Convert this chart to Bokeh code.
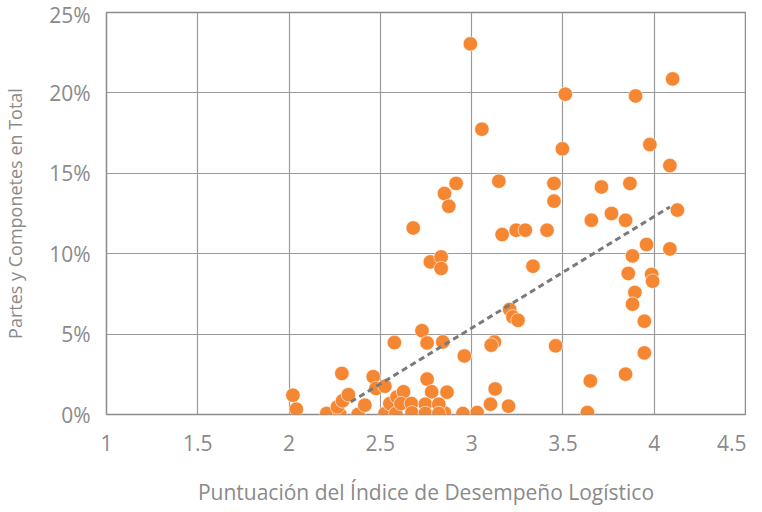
from bokeh.plotting import figure
from bokeh.models import Range1d, FixedTicker, ColumnDataSource
from bokeh.embed import file_html
from bokeh.resources import INLINE

# Logistics Performance Index score vs share of parts & components in total (%)
lpi_score = [
    2.993, 3.056, 2.915, 2.851, 2.875, 2.680, 3.149, 3.167, 3.244, 3.294,
    3.413, 2.774, 2.833, 2.833, 4.101, 3.513, 3.898, 3.497, 3.976, 4.086,
    3.451, 3.867, 3.711, 3.451, 3.766, 3.656, 3.843, 4.127, 3.958, 4.086,
    3.881, 3.336, 3.858, 3.986, 3.991, 3.894, 3.881, 3.946, 3.946, 3.843,
    3.650, 3.634, 3.460, 3.208, 3.226, 3.254, 3.125, 3.107, 2.960, 3.129,
    3.103, 3.202, 3.030, 2.952, 2.865, 2.851, 2.842,
    2.021, 2.040, 2.206, 2.278, 2.265, 2.293, 2.325, 2.289, 2.378, 2.415,
    2.461, 2.476, 2.525, 2.525, 2.552, 2.577, 2.585, 2.591, 2.627, 2.613,
    2.670, 2.673, 2.728, 2.756, 2.756, 2.781, 2.746, 2.746, 2.820, 2.820,
]
parts_share = [
    23.05, 17.74, 14.37, 13.74, 12.95, 11.60, 14.51, 11.19, 11.46, 11.46,
    11.46, 9.49, 9.80, 9.08, 20.87, 19.92, 19.81, 16.52, 16.79, 15.48,
    14.37, 14.37, 14.15, 13.27, 12.50, 12.08, 12.08, 12.71, 10.57, 10.30,
    9.86, 9.22, 8.77, 8.71, 8.29, 7.59, 6.86, 5.80, 3.83, 2.51,
    2.09, 0.12, 4.27, 6.53, 6.07, 5.86, 4.51, 4.31, 3.64, 1.59,
    0.64, 0.52, 0.12, 0.06, 1.39, 0.10, 4.51,
    1.20, 0.33, 0.06, 0.00, 0.47, 0.85, 1.23, 2.55, 0.00, 0.58,
    2.35, 1.62, 1.76, 0.05, 0.68, 4.47, 0.06, 1.09, 1.41, 0.68,
    0.68, 0.10, 5.21, 4.45, 2.20, 1.41, 0.64, 0.06, 0.64, 0.06,
]

trend_x = [2.338, 4.086]
trend_y = [0.78, 12.91]

x_ticks = [1, 1.5, 2, 2.5, 3, 3.5, 4, 4.5]
x_tick_labels = ["1", "1.5", "2", "2.5", "3", "3.5", "4", "4.5"]
y_ticks = [0, 5, 10, 15, 20, 25]
y_tick_labels = ["0%", "5%", "10%", "15%", "20%", "25%"]

x_title = "Puntuación del Índice de Desempeño Logístico"
y_title = "Partes y Componetes en Total"

FONT = "Open Sans"
TEXT = "#8a8a8a"
GRID = "#9a9a9a"
ORANGE = "#F58632"

p = figure(width=746, height=508, output_backend="svg", toolbar_location=None,
           x_range=Range1d(1, 4.5), y_range=Range1d(0, 25),
           min_border_left=98, min_border_right=1, min_border_top=12,
           min_border_bottom=90)

p.outline_line_color = "#8c8c8c"
p.outline_line_width = 1.5
p.background_fill_color = "white"
p.border_fill_color = "white"

p.xaxis.ticker = FixedTicker(ticks=x_ticks)
p.yaxis.ticker = FixedTicker(ticks=y_ticks)
p.xaxis.major_label_overrides = {t: l for t, l in zip(x_ticks, x_tick_labels)}
p.yaxis.major_label_overrides = {t: l for t, l in zip(y_ticks, y_tick_labels)}

for ax in (p.xaxis, p.yaxis):
    ax.axis_line_color = None
    ax.major_tick_line_color = None
    ax.minor_tick_line_color = None
    ax.major_label_text_font = FONT
    ax.major_label_text_color = TEXT
    ax.major_label_text_font_size = "21px"
    ax.axis_label_text_font = FONT
    ax.axis_label_text_color = TEXT
    ax.axis_label_text_font_style = "normal"

p.xaxis.axis_label = x_title
p.yaxis.axis_label = y_title
p.xaxis.axis_label_text_font_size = "21px"
p.yaxis.axis_label_text_font_size = "18px"
p.xaxis.major_label_standoff = 14
p.yaxis.major_label_standoff = 10
p.xaxis.axis_label_standoff = 24
p.yaxis.axis_label_standoff = 19

p.xgrid.grid_line_color = GRID
p.ygrid.grid_line_color = GRID
p.xgrid.grid_line_width = 1.2
p.ygrid.grid_line_width = 1.2

src = ColumnDataSource(dict(x=lpi_score, y=parts_share))
p.scatter("x", "y", source=src, size=14.5, fill_color=ORANGE,
          line_color="white", line_width=0.6)

p.line(trend_x, trend_y, line_color="#7a7a7a", line_width=3, line_dash="6 4")

open("out.html", "w").write(file_html(p, INLINE))
